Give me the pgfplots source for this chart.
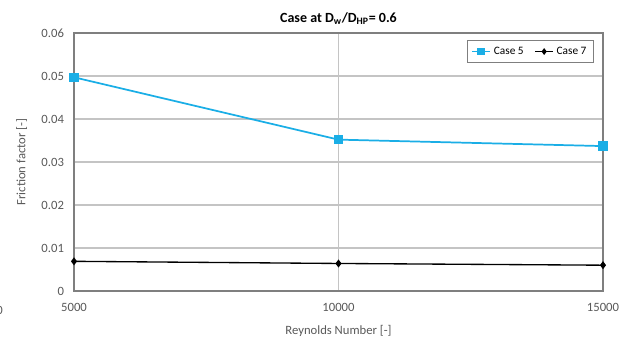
\documentclass[border=0pt]{standalone}
\usepackage{pgfplots}
\pgfplotsset{compat=1.18}
\usepackage{fontspec}
\setmainfont{Carlito}
\definecolor{caseblue}{HTML}{1AAEE6}
\definecolor{gridgray}{HTML}{C4C4C4}
\definecolor{framegray}{HTML}{7F7F7F}
\definecolor{ticktext}{HTML}{595959}
\begin{document}
\begin{tikzpicture}
% canvas
\path[use as bounding box] (0pt,0pt) rectangle (471.75pt,255.75pt);
\begin{axis}[
  at={(55.5pt,37.5pt)}, anchor=south west,
  scale only axis,
  width=396.75pt, height=193.5pt,
  xmin=5000, xmax=15000, ymin=0, ymax=0.06,
  xtick={5000,10000,15000},
  ytick={0,0.01,0.02,0.03,0.04,0.05,0.06},
  yticklabels={0,0.01,0.02,0.03,0.04,0.05,0.06},
  xticklabels={5000,10000,15000},
  scaled y ticks=false, scaled x ticks=false,
  major tick length=0pt,
  grid=major,
  major grid style={gridgray, line width=0.9pt},
  axis line style={framegray, line width=1pt},
  tick label style={font=\fontsize{9.5}{11}\selectfont, text=ticktext},
  xticklabel style={yshift=-6pt},
  yticklabel style={xshift=-4pt},
  xlabel={Reynolds Number [-]},
  ylabel={Friction factor [-]},
  label style={font=\fontsize{9.5}{11}\selectfont, text=ticktext},
  xlabel style={yshift=-3pt},
  ylabel style={yshift=4pt},
  title={\textbf{Case at D\textsubscript{w}/D\textsubscript{HP}= 0.6}},
  title style={font=\fontsize{10.5}{12}\selectfont, yshift=-3pt},
  legend style={at={(1,1)}, anchor=north east, xshift=-7pt, yshift=-5pt,
    draw=framegray, line width=0.8pt, font=\fontsize{8.5}{9}\selectfont,
    legend columns=2,
    /tikz/every even column/.append style={column sep=6pt},
    inner sep=3pt},
  legend cell align=left,
  legend image post style={scale=0.8},
  clip=false,
]
\addplot[caseblue, line width=1.3pt, mark=square*, mark size=2.8pt,
  mark options={fill=caseblue, draw=caseblue}]
  coordinates {(5000,0.0497) (10000,0.0352) (15000,0.0337)};
\addlegendentry{Case 5}
\addplot[black, line width=1pt, mark=diamond*, mark size=2.2pt]
  coordinates {(5000,0.0069) (10000,0.0064) (15000,0.0060)};
\addlegendentry{Case 7}
\end{axis}
\node[text=ticktext, font=\fontsize{9.5}{11}\selectfont, anchor=west, inner sep=0pt] at (-3pt,23pt) {0};
\end{tikzpicture}
\end{document}
